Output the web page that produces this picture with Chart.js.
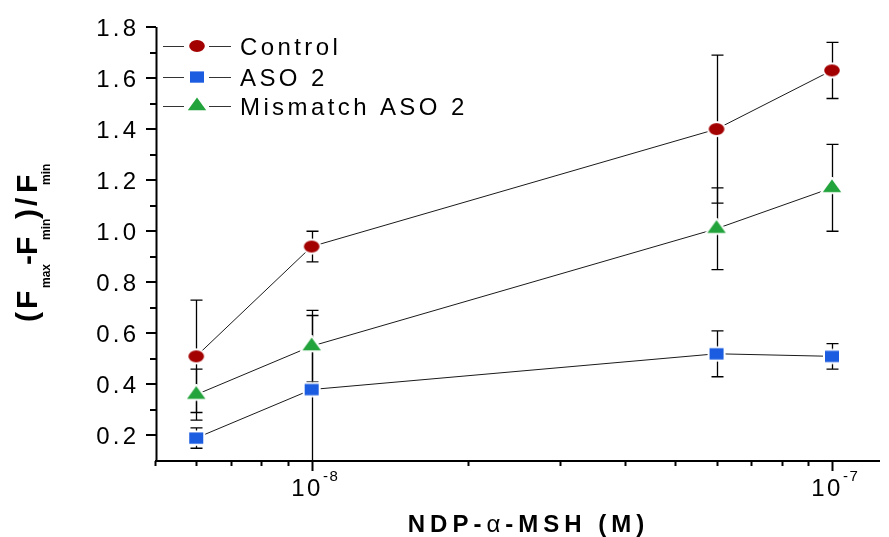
<!DOCTYPE html>
<html>
<head>
<meta charset="utf-8">
<script src="https://cdn.jsdelivr.net/npm/chart.js@4/dist/chart.umd.min.js"></script>
<style>
  html, body { margin: 0; padding: 0; background: #fff; }
  #wrap { width: 889px; height: 537px; }
</style>
</head>
<body>
<div id="wrap"><canvas id="grafico" width="889" height="537"></canvas></div>
<script>
// NDP-alpha-MSH concentrations (M)
const concentrations = [6e-9, 1e-8, 6e-8, 1e-7];

// (Fmax - Fmin) / Fmin, mean and error per group
const controlMean = [0.51, 0.94, 1.40, 1.63];
const controlErr = [0.22, 0.06, 0.29, 0.11];
const asoMean = [0.19, 0.38, 0.52, 0.51];
const asoErr = [0.04, 0.29, 0.09, 0.05];
const mismatchMean = [0.36, 0.55, 1.01, 1.17];
const mismatchErr = [0.10, 0.14, 0.16, 0.17];

const seriesNames = ["Control", "ASO 2", "Mismatch ASO 2"];

// axis ticks
const yMajorTicks = [0.2, 0.4, 0.6, 0.8, 1.0, 1.2, 1.4, 1.6, 1.8];
const yMinorTicks = [0.3, 0.5, 0.7, 0.9, 1.1, 1.3, 1.5, 1.7];
const xMajorTicks = [1e-8, 1e-7];
const xMajorExponents = ["-8", "-7"];
const xMinorTicks = [5e-9, 6e-9, 7e-9, 8e-9, 9e-9, 2e-8, 3e-8, 4e-8, 5e-8, 6e-8, 7e-8, 8e-8, 9e-8];

const FONT = '"Liberation Sans", Arial, sans-serif';
const RED = "#a30000";
const BLUE = "#1b5ce0";
const GREEN = "#22a33b";

// marker bitmaps with a thin white halo, like the original plotting program
function makeMarker(shape, color) {
  const c = document.createElement("canvas");
  c.width = 24;
  c.height = 22;
  const g = c.getContext("2d");
  g.beginPath();
  if (shape === "ellipse") {
    g.ellipse(12, 11, 7.8, 6, 0, 0, Math.PI * 2);
  } else if (shape === "rect") {
    g.rect(5, 5.4, 14, 11.3);
  } else {
    // centroid sits on the data point
    g.moveTo(12, 11 - 8.5);
    g.lineTo(12 + 9.2, 11 + 4.3);
    g.lineTo(12 - 9.2, 11 + 4.3);
    g.closePath();
  }
  g.lineWidth = 4;
  g.strokeStyle = "#fff";
  g.stroke();
  g.fillStyle = color;
  g.fill();
  return c;
}

const markers = [
  makeMarker("ellipse", RED),
  makeMarker("rect", BLUE),
  makeMarker("triangle", GREEN)
];

function toPoints(means) {
  return concentrations.map((c, i) => ({ x: c, y: means[i] }));
}

// draws text char by char so letter spacing works everywhere
function drawRuns(ctx, runs, x, y, align) {
  let total = 0;
  runs.forEach(r => {
    ctx.font = r.font;
    for (const ch of r.text) total += ctx.measureText(ch).width + (r.spacing || 0);
  });
  total -= runs[runs.length - 1].spacing || 0;
  let cx = x;
  if (align === "center") cx = x - total / 2;
  if (align === "right") cx = x - total;
  runs.forEach(r => {
    ctx.font = r.font;
    for (const ch of r.text) {
      ctx.fillText(ch, cx, y + (r.dy || 0));
      cx += ctx.measureText(ch).width + (r.spacing || 0);
    }
  });
}

const errorBars = {
  id: "errorBars",
  beforeDatasetsDraw(chart) {
    const ctx = chart.ctx;
    const ys = chart.scales.y;
    const area = chart.chartArea;
    ctx.save();
    ctx.strokeStyle = "#000";
    ctx.lineWidth = 1.3;
    chart.data.datasets.forEach((ds, i) => {
      const meta = chart.getDatasetMeta(i);
      ds.errors.forEach((e, j) => {
        const px = Math.round(meta.data[j].x) + 0.5;
        const top = ys.getPixelForValue(ds.data[j].y + e);
        const bottomRaw = ys.getPixelForValue(ds.data[j].y - e);
        const bottom = Math.min(bottomRaw, area.bottom);
        ctx.beginPath();
        ctx.moveTo(px, top);
        ctx.lineTo(px, bottom);
        ctx.moveTo(px - 6, top);
        ctx.lineTo(px + 6, top);
        if (bottomRaw < area.bottom) {
          ctx.moveTo(px - 6, bottom);
          ctx.lineTo(px + 6, bottom);
        }
        ctx.stroke();
      });
    });
    ctx.restore();
  }
};

const axesAndText = {
  id: "axesAndText",
  afterDraw(chart) {
    const ctx = chart.ctx;
    const xs = chart.scales.x;
    const ys = chart.scales.y;
    const area = chart.chartArea;
    ctx.save();
    ctx.strokeStyle = "#000";
    ctx.fillStyle = "#000";

    // axis lines
    ctx.lineWidth = 2;
    ctx.beginPath();
    ctx.moveTo(area.left + 1.5, area.top);
    ctx.lineTo(area.left + 1.5, area.bottom + 1);
    ctx.moveTo(area.left, area.bottom);
    ctx.lineTo(area.right, area.bottom);
    ctx.stroke();

    // y ticks and labels
    ctx.textBaseline = "alphabetic";
    yMajorTicks.forEach(v => {
      const py = Math.round(ys.getPixelForValue(v));
      ctx.beginPath();
      ctx.moveTo(area.left - 9, py);
      ctx.lineTo(area.left + 1, py);
      ctx.stroke();
      drawRuns(ctx, [{ text: v.toFixed(1), font: "24px " + FONT, spacing: 3.2 }], 136, py + 9, "right");
    });
    yMinorTicks.forEach(v => {
      const py = Math.round(ys.getPixelForValue(v));
      ctx.beginPath();
      ctx.moveTo(area.left - 5, py);
      ctx.lineTo(area.left + 1, py);
      ctx.stroke();
    });

    // x ticks and labels
    xMajorTicks.forEach((v, i) => {
      const px = Math.round(xs.getPixelForValue(v)) + 0.5;
      ctx.beginPath();
      ctx.moveTo(px, area.bottom);
      ctx.lineTo(px, area.bottom + 10);
      ctx.stroke();
      drawRuns(ctx, [
        { text: "10", font: "24px " + FONT, spacing: 2.5 },
        { text: xMajorExponents[i], font: "15px " + FONT, spacing: 1.5, dy: -15 }
      ], px + 2, 496, "center");
    });
    xMinorTicks.forEach(v => {
      const px = Math.round(xs.getPixelForValue(v)) + 0.5;
      ctx.beginPath();
      ctx.moveTo(px, area.bottom);
      ctx.lineTo(px, area.bottom + 5);
      ctx.stroke();
    });

    // x title
    drawRuns(ctx, [
      { text: "NDP-", font: "bold 24px " + FONT, spacing: 5 },
      { text: "α", font: "24px " + FONT, spacing: 5 },
      { text: "-MSH (M)", font: "bold 24px " + FONT, spacing: 5 }
    ], 526, 532, "center");

    // y title, rotated
    ctx.save();
    ctx.translate(0, 322);
    ctx.rotate(-Math.PI / 2);
    const big = "bold 30px " + FONT;
    const sub = "bold 12px " + FONT;
    [["(", 0, big, 37], ["F", 13, big, 37], ["max", 34, sub, 50],
     ["-F", 57, big, 37], ["min", 82, sub, 50],
     [")", 103, big, 37], ["/", 116, big, 37], ["F", 129, big, 37], ["min", 137, sub, 50]
    ].forEach(([t, lx, f, ly]) => {
      ctx.font = f;
      ctx.fillText(t, lx, ly);
    });
    ctx.restore();

    // legend
    const rows = [46, 77, 106];
    ctx.lineWidth = 1;
    ctx.strokeStyle = "#333";
    chart.data.datasets.forEach((ds, i) => {
      const ry = rows[i] + 0.5;
      ctx.beginPath();
      ctx.moveTo(163, ry);
      ctx.lineTo(184, ry);
      ctx.moveTo(209, ry);
      ctx.lineTo(231, ry);
      ctx.stroke();
      const m = ds.pointStyle;
      ctx.drawImage(m, 197 - m.width / 2, rows[i] - m.height / 2);
      ctx.fillStyle = "#000";
      drawRuns(ctx, [{ text: ds.label, font: "24px " + FONT, spacing: 3.4 }], 240, rows[i] + 8.5, "left");
    });

    ctx.restore();
  }
};

const meansList = [controlMean, asoMean, mismatchMean];
const errList = [controlErr, asoErr, mismatchErr];

const datasets = seriesNames.map((name, i) => ({
  label: name,
  data: toPoints(meansList[i]),
  errors: errList[i],
  borderColor: "#1a1a1a",
  borderWidth: 1,
  pointStyle: markers[i],
  pointRadius: 8,
  pointHoverRadius: 8,
  tension: 0,
  fill: false
}));

new Chart(document.getElementById("grafico"), {
  type: "line",
  data: { datasets: datasets },
  options: {
    responsive: false,
    animation: false,
    events: [],
    layout: { padding: { left: 155, right: 0, top: 27, bottom: 76 } },
    plugins: {
      legend: { display: false },
      tooltip: { enabled: false }
    },
    scales: {
      x: { type: "logarithmic", min: 5e-9, max: 1.237e-7, display: false },
      y: { type: "linear", min: 0.1, max: 1.8, display: false }
    }
  },
  plugins: [errorBars, axesAndText]
});
</script>
</body>
</html>
